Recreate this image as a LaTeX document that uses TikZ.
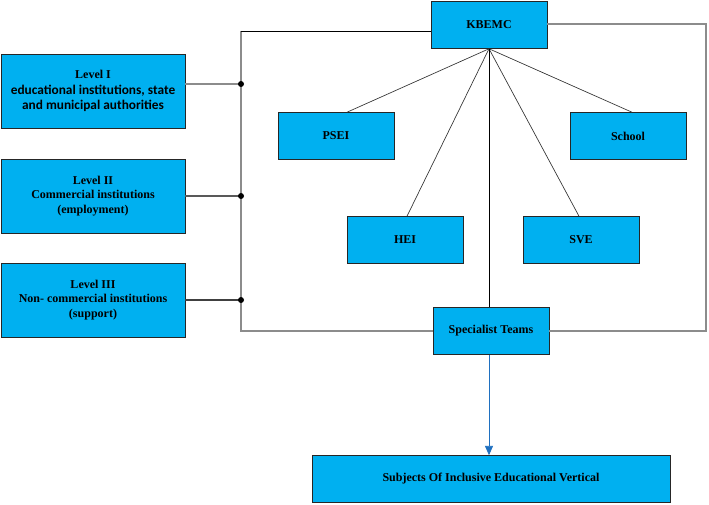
\documentclass[tikz,border=0pt]{standalone}
\usepackage{fontspec}
\setmainfont{Liberation Serif}
\newfontfamily\calibri{Carlito}
\usetikzlibrary{arrows.meta,positioning}
\definecolor{boxblue}{HTML}{00B0F0}
\definecolor{arrowblue}{HTML}{1F70C0}

\begin{document}
\begin{tikzpicture}[x=0.75pt,y=-0.75pt, node distance=2cm, on grid,
	block/.style={draw=black!85, fill=boxblue, minimum width=87pt, minimum height=35.25pt,
		font=\fontsize{9}{10}\selectfont\bfseries, inner sep=1pt},
	level/.style={block, minimum width=138pt, minimum height=55.5pt, align=center,
		font=\fontsize{9}{11}\selectfont\bfseries},
	bus/.style={draw=black!45, line width=0.8pt},
	fan/.style={draw=black!80, line width=0.5pt},
	junction/.style={circle, fill=black, inner sep=0pt, minimum size=4.5pt}]
	\useasboundingbox (0,0) rectangle (709,505);

	\node[block] (kbemc) at (489,25) {KBEMC};
	\node[block] (psei) at (336,136) {PSEI};
	\node[block] (school) at (628,136) {School};
	\node[block] (hei) at (405,240) {HEI};
	\node[block] (sve) at (581,240) {SVE};
	\node[block] (teams) at (491,331) {Specialist Teams};
	\node[block, minimum width=268.5pt] (subjects) [below=111pt of teams] {Subjects Of Inclusive Educational Vertical};

	\node[level] (l1) at (93,91) {Level I\\[1pt]{\calibri\fontsize{10}{13}\selectfont educational institutions, state}\\{\calibri\fontsize{10}{13}\selectfont and municipal authorities}};
	\node[level] (l2) at (93,196) {Level II\\Commercial institutions\\(employment)};
	\node[level] (l3) at (93,300) {Level III\\Non- commercial institutions\\(support)};

	% points on the left and right bus
	\coordinate (j1) at (241,84);
	\coordinate (j2) at (241,196);
	\coordinate (j3) at (241,300);
	\coordinate (bustop) at (241,31);
	\coordinate (busbot) at (241,331);
	\coordinate (rtop) at (706,24);
	\coordinate (rbot) at (706,331);

	\draw[bus] (l1.east |- j1) -- (j1);
	\draw[bus, draw=black!65] (l2.east |- j2) -- (j2);
	\draw[bus, draw=black!75] (l3.east |- j3) -- (j3);
	\draw[bus] (bustop) -- (busbot) -- (teams.west |- busbot);
	\draw[line width=0.6pt] (bustop) -- (kbemc.west |- bustop);
	\draw[bus] (kbemc.east |- rtop) -- (rtop) -- (rbot) -- (teams.east |- rbot);
	\foreach \j in {j1,j2,j3}
		\node[junction] at (\j) {};

	\path[fan] (kbemc.south) edge (psei.north -| 347,0)
		(kbemc.south) edge (school.north -| 632,0)
		(kbemc.south) edge (hei.north -| 407,0)
		(kbemc.south) edge (sve.north -| 579,0);
	\draw[line width=0.7pt] (kbemc.south) -- (kbemc.south |- teams.north);
	\draw[arrowblue, line width=0.6pt, -{Triangle[width=6pt,length=7pt]}] (kbemc.south |- teams.south) -- (kbemc.south |- subjects.north);
\end{tikzpicture}
\end{document}
